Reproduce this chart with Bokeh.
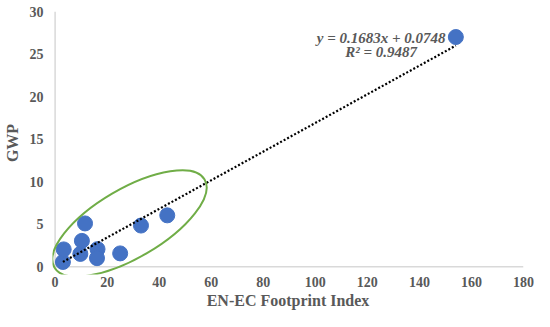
from bokeh.plotting import figure
from bokeh.models import FixedTicker, Label, Range1d
from bokeh.embed import file_html
from bokeh.resources import INLINE
from bokeh.core.properties import value

# ---- data ----
enec_index = [3.0, 3.3, 9.7, 10.3, 11.5, 16.3, 16.1, 25.0, 33.0, 43.1, 154.0]
gwp = [0.57, 2.05, 1.52, 3.05, 5.1, 2.08, 1.02, 1.58, 4.85, 6.05, 27.0]
slope = 0.1683
intercept = 0.0748
r_squared = 0.9487
x_ticks = [0, 20, 40, 60, 80, 100, 120, 140, 160, 180]
y_ticks = [0, 5, 10, 15, 20, 25, 30]
cluster_center_x = [28.6]
cluster_center_y = [5.1]

# ---- styles ----
GRAY_TXT = "#595959"
AXIS_GRAY = "#d9d9d9"
BLUE = "#4472C4"
GREEN = "#70AD47"
FONT = "Liberation Serif"

p = figure(width=534, height=311, output_backend="svg", toolbar_location=None,
           x_range=Range1d(-1.0, x_ticks[-1]), y_range=Range1d(-0.9, y_ticks[-1]),
           min_border_left=46, min_border_right=11, min_border_top=11, min_border_bottom=10)
p.outline_line_color = None
p.grid.visible = False
p.background_fill_color = "white"
p.border_fill_color = "white"

for ax in (p.xaxis[0], p.yaxis[0]):
    ax.axis_line_color = None
    ax.major_tick_line_color = None
    ax.minor_tick_line_color = None
    ax.major_tick_out = 0
    ax.major_tick_in = 0
    ax.minor_tick_out = 0
    ax.minor_tick_in = 0
    ax.major_label_text_font = FONT
    ax.major_label_text_font_style = "bold"
    ax.major_label_text_font_size = "14px"
    ax.major_label_text_color = GRAY_TXT
    ax.axis_label_text_font = FONT
    ax.axis_label_text_font_style = "bold"
    ax.axis_label_text_font_size = "16px"
    ax.axis_label_text_color = GRAY_TXT

p.xaxis.ticker = FixedTicker(ticks=x_ticks)
p.yaxis.ticker = FixedTicker(ticks=y_ticks)
p.xaxis.axis_label = "EN-EC Footprint Index"
p.yaxis.axis_label = "GWP"
p.xaxis.major_label_standoff = 2
p.xaxis.axis_label_standoff = 2
p.yaxis.major_label_standoff = 9
p.yaxis.axis_label_standoff = 6

# axis lines at the zero of each axis
p.segment(x0=[x_ticks[0], x_ticks[0]], y0=[y_ticks[0], y_ticks[0]],
          x1=[x_ticks[0], x_ticks[-1]], y1=[y_ticks[-1], y_ticks[0]],
          line_color=AXIS_GRAY, line_width=1.5)

# points
p.scatter(enec_index, gwp, size=15, fill_color=BLUE, line_color=BLUE)

# trendline
x_lo, x_hi = min(enec_index), max(enec_index)
p.line([x_lo, x_hi], [slope * x_lo + intercept, slope * x_hi + intercept],
       line_color="black", line_width=2.2, line_dash="2 2")

# cluster ellipse
p.ellipse(x=cluster_center_x, y=cluster_center_y, width=174, height=69,
          width_units="screen", height_units="screen", angle=0.53,
          fill_color=None, line_color=GREEN, line_width=2)

# equation labels
eq1 = f"y = {slope}x + {intercept}"
eq2 = f"R\u00b2 = {r_squared}"
for txt, yy in ((eq1, 26.9), (eq2, 25.2)):
    p.add_layout(Label(x=125.3, y=yy, text=txt, text_align="center", text_baseline="middle",
                       text_font=FONT, text_font_style="bold italic", text_font_size="15px",
                       text_color=GRAY_TXT))

open("out.html", "w").write(file_html(p, INLINE))
